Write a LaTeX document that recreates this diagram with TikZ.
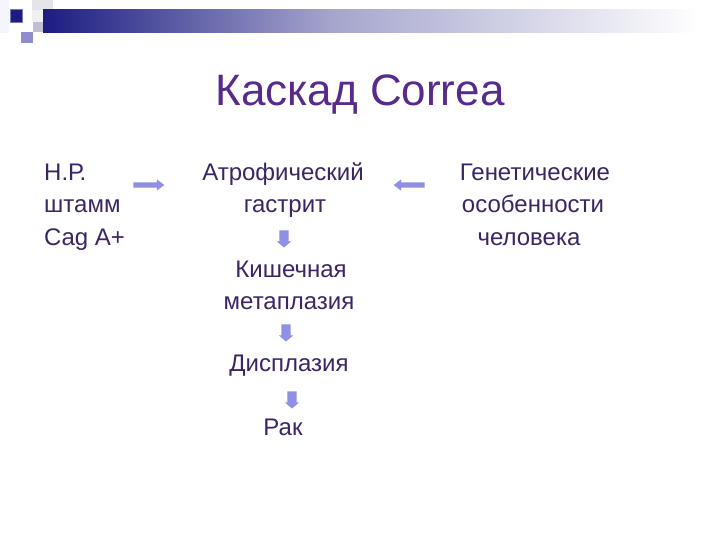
\documentclass[tikz,border=0pt]{standalone}
\usepackage{fontspec}
\setmainfont{Liberation Sans}
\usetikzlibrary{shapes.arrows}
\definecolor{bodytext}{RGB}{58,38,100}
\definecolor{titletext}{RGB}{88,42,140}
\definecolor{arrowfill}{RGB}{143,143,230}
\definecolor{navy}{RGB}{28,28,130}
\definecolor{lavsq}{RGB}{142,142,205}
\begin{document}
\begin{tikzpicture}[x=1pt,y=-1pt,
  bodyline/.style={text=bodytext,font=\fontsize{24}{29}\selectfont,inner sep=0pt},
  titleline/.style={text=titletext,font=\fontsize{44}{53}\selectfont,inner sep=0pt},
  harrow/.style={single arrow,fill=arrowfill,draw=none,minimum height=31pt,
    inner sep=2.5pt,single arrow head extend=3pt,
    single arrow tip angle=75},
  varrow/.style={single arrow,fill=arrowfill,draw=none,minimum height=17pt,
    inner sep=4.5pt,single arrow head extend=2.5pt,single arrow tip angle=100,
    shape border rotate=270}]
\useasboundingbox (0,0) rectangle (720,540);
\fill[white] (0,0) rectangle (720,540);
% top decoration
\fill[black!6!blue!4] (0,0) rectangle (9,33);
\fill[blue!10!black!10] (32,0) rectangle (53,10);
\fill[blue!6!black!6] (32,10) rectangle (43,22);
\shade[left color=navy, right color=navy!40!white] (43,10) rectangle (330,33);
\shade[left color=navy!40!white, right color=white] (329,10) rectangle (700,33);
\fill[blue!30!black!25] (33,22) rectangle (43,32);
\fill[navy, draw=navy!60!white, line width=1pt] (10.5,9.5) rectangle (22.5,22.5);
\fill[lavsq] (21,32) rectangle (33,43);
% title
\node[titleline,anchor=base] (title) at (360,106) {Каскад Correa};
% left column
\node[bodyline,anchor=base west] (hp1) at (44,181) {Н.Р.};
\node[bodyline,anchor=base west] (hp2) at (44,213) {штамм};
\node[bodyline,anchor=base west] (hp3) at (44,245) {Cag A+};
% middle column
\node[bodyline,anchor=base] (atr1) at (283,181) {Атрофический};
\node[bodyline,anchor=base] (atr2) at (285,213) {гастрит};
\node[bodyline,anchor=base] (kish1) at (291,277) {Кишечная};
\node[bodyline,anchor=base] (kish2) at (289,309) {метаплазия};
\node[bodyline,anchor=base] (disp) at (289,371) {Дисплазия};
\node[bodyline,anchor=base] (rak) at (283,435) {Рак};
% right column
\node[bodyline,anchor=base] (gen1) at (535,181) {Генетические};
\node[bodyline,anchor=base] (gen2) at (533,213) {особенности};
\node[bodyline,anchor=base] (gen3) at (529,245) {человека};
% arrows
\node[harrow] (a1) at (147,185) {};
\node[harrow,shape border rotate=180] (a2) at (411,185) {};
\node[varrow] (d1) at (284,237) {};
\node[varrow] (d2) at (286,331) {};
\node[varrow] (d3) at (292,398) {};
\end{tikzpicture}
\end{document}
